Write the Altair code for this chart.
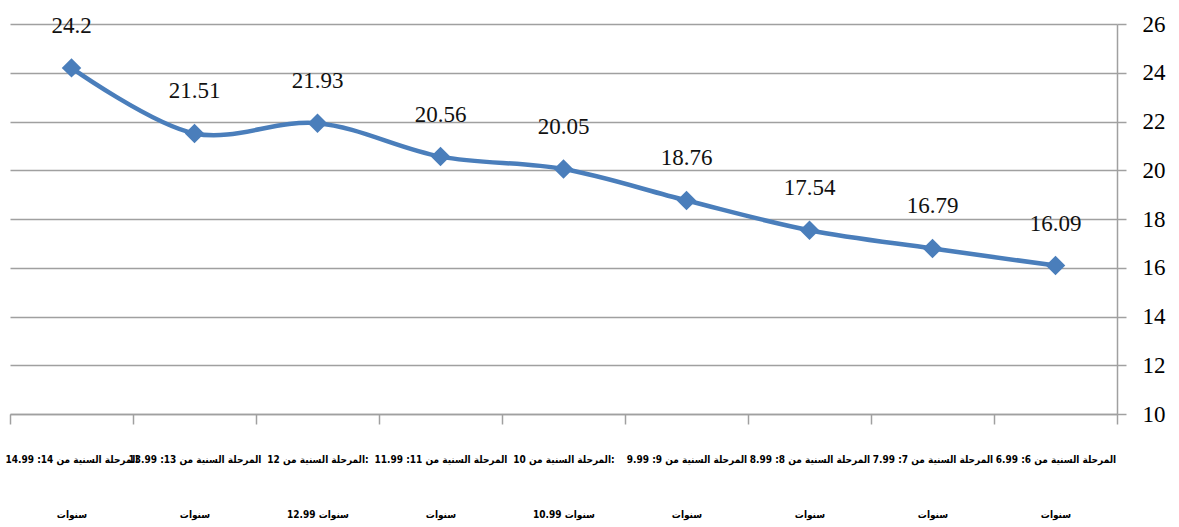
import altair as alt
import pandas as pd

# Age stages, each axis label split over two lines
label_line1 = [
    "المرحلة السنية من 14: 14.99",
    "المرحلة السنية من 13: 13.99",
    "المرحلة السنية من 12:",
    "المرحلة السنية من 11: 11.99",
    "المرحلة السنية من 10:",
    "المرحلة السنية من 9: 9.99",
    "المرحلة السنية من 8: 8.99",
    "المرحلة السنية من 7: 7.99",
    "المرحلة السنية من 6: 6.99",
]
label_line2 = [
    "سنوات",
    "سنوات",
    "12.99 سنوات",
    "سنوات",
    "10.99 سنوات",
    "سنوات",
    "سنوات",
    "سنوات",
    "سنوات",
]
values = [24.2, 21.51, 21.93, 20.56, 20.05, 18.76, 17.54, 16.79, 16.09]
value_labels = ["24.2", "21.51", "21.93", "20.56", "20.05", "18.76", "17.54", "16.79", "16.09"]
y_ticks = [10, 12, 14, 16, 18, 20, 22, 24, 26]

df = pd.DataFrame({
    "stage": [a + "|" + b for a, b in zip(label_line1, label_line2)],
    "value": values,
    "label": value_labels,
})

BLUE = "#4A7EBB"
GRID = "#A0A0A0"
SERIF = "Liberation Serif"

x = alt.X(
    "stage:N",
    sort=None,
    scale=alt.Scale(paddingInner=0, paddingOuter=0),
    axis=alt.Axis(
        title=None,
        labelAngle=0,
        labelExpr="split(datum.label, '|')",
        labelFont="DejaVu Sans Condensed",
        labelFontWeight="bold",
        labelFontSize=10,
        labelColor="black",
        labelLineHeight=55,
        labelPadding=30,
        labelBaseline="top",
        labelOverlap=False,
        labelLimit=0,
        tickBand="extent",
        tickSize=10,
        tickColor=GRID,
        tickWidth=1.5,
        domainColor=GRID,
        domainWidth=1.5,
        grid=False,
    ),
)
y = alt.Y(
    "value:Q",
    scale=alt.Scale(domain=[10, 26], nice=False, zero=False),
    axis=alt.Axis(
        title=None,
        orient="right",
        values=y_ticks,
        labelFont=SERIF,
        labelFontSize=23,
        labelColor="black",
        labelPadding=16,
        tickSize=9,
        tickColor=GRID,
        tickWidth=1.5,
        domainColor=GRID,
        domainWidth=1.5,
        gridColor=GRID,
        gridWidth=1.5,
    ),
)

base = alt.Chart(df).encode(x=x, y=y)

line = base.mark_line(color=BLUE, strokeWidth=4.5, interpolate="catmull-rom")
points = base.mark_point(shape="diamond", filled=True, size=380, color=BLUE, opacity=1)
labels = base.mark_text(dy=-42, fontSize=23, font=SERIF, color="#111", baseline="middle").encode(
    text="label:N"
)

chart = (
    alt.layer(line, points, labels)
    .properties(
        width=1107,
        height=390,
        autosize=alt.AutoSizeParams(type="none"),
        padding={"left": 10, "top": 24, "right": 62, "bottom": 113},
        background="white",
    )
    .configure_view(stroke=None)
)

chart.save("out.html", embed_options={"renderer": "svg", "actions": False})
